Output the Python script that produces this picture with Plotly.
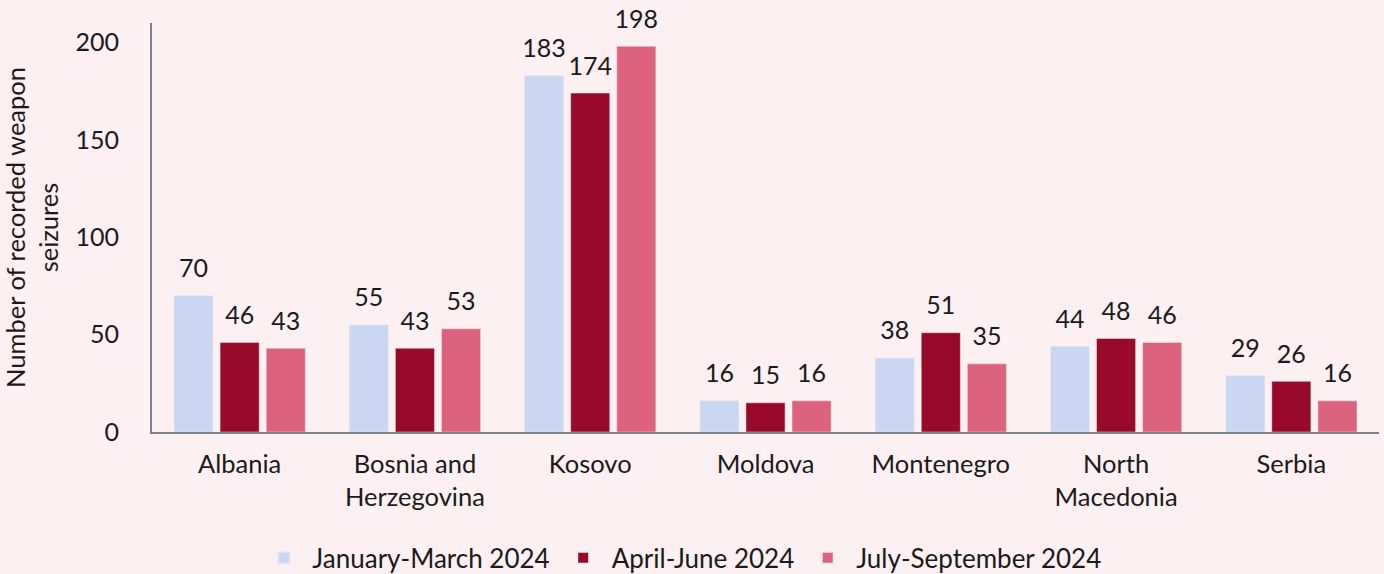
import plotly.graph_objects as go

categories = ["Albania", "Bosnia and<br>Herzegovina", "Kosovo", "Moldova", "Montenegro", "North<br>Macedonia", "Serbia"]
series_names = ["January-March 2024", "April-June 2024", "July-September 2024"]
q1 = [70, 55, 183, 16, 38, 44, 29]
q2 = [46, 43, 174, 15, 51, 48, 26]
q3 = [43, 53, 198, 16, 35, 46, 16]
colors = ["#CBD6F2", "#990A2A", "#DD627D"]
y_ticks = [0, 50, 100, 150, 200]

GAP = 0.211
fig = go.Figure()
for name, vals, col in zip(series_names, [q1, q2, q3], colors):
    fig.add_trace(go.Bar(
        x=categories, y=vals, name=name, marker_color=col,
    ))
for name, vals in zip(series_names, [q1, q2, q3]):
    fig.add_trace(go.Scatter(
        x=categories, y=vals, mode="markers+text", text=[str(v) for v in vals],
        textposition="top center", textfont=dict(size=25, color="#1a1a1a"),
        marker=dict(size=18, opacity=0), showlegend=False, hoverinfo="skip",
        cliponaxis=False,
    ))

fig.update_layout(
    width=1384, height=574,
    paper_bgcolor="#FCF0F2", plot_bgcolor="#FCF0F2",
    font=dict(family="Lato", size=25, color="#1a1a1a"),
    margin=dict(l=152, r=5, t=23, b=142, autoexpand=False),
    barmode="group", bargap=GAP, bargroupgap=0.152,
    scattermode="group", scattergap=GAP,
    legend=dict(orientation="h", x=0.431, xanchor="center", yref="container", y=0.028, yanchor="middle",
                font=dict(size=26), itemsizing="constant", itemwidth=47),
    showlegend=True,
)
fig.update_yaxes(range=[0, 210], tickvals=y_ticks, showgrid=False, showline=True,
                 linecolor="#7B838C", linewidth=2, zeroline=False, ticks="", automargin=False,
                 ticklabelstandoff=26, tickfont=dict(size=25),
                 title=dict(text="Number of recorded weapon<br>seizures", font=dict(size=25.5), standoff=14))
fig.update_xaxes(showline=True, linecolor="#7B838C", linewidth=2, ticks="", automargin=False,
                 ticklabelstandoff=8, tickfont=dict(size=25.5))

fig.write_html("out.html", config={"displayModeBar": False},
               post_script="document.body.style.margin='0';document.body.style.overflow='hidden';")
